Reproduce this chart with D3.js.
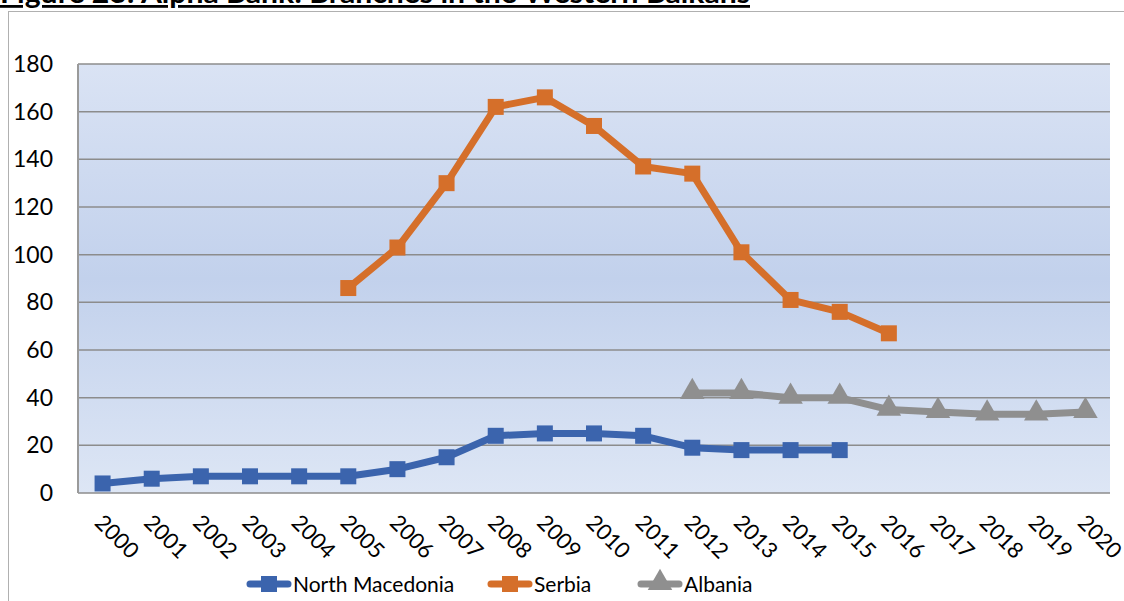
<!DOCTYPE html>
<html>
<head>
<meta charset="utf-8">
<script src="https://cdn.jsdelivr.net/npm/d3@7"></script>
<style>
  body { margin: 0; background: #fff; }
  svg { display: block; font-family: Lato, "Open Sans", sans-serif; }
</style>
</head>
<body>
<div id="chart"></div>
<script>
const years = ["2000","2001","2002","2003","2004","2005","2006","2007","2008","2009","2010",
               "2011","2012","2013","2014","2015","2016","2017","2018","2019","2020"];
const northMacedonia = [4, 6, 7, 7, 7, 7, 10, 15, 24, 25, 25, 24, 19, 18, 18, 18, null, null, null, null, null];
const serbia = [null, null, null, null, null, 86, 103, 130, 162, 166, 154, 137, 134, 101, 81, 76, 67, null, null, null, null];
const albania = [null, null, null, null, null, null, null, null, null, null, null, null, 42, 42, 40, 40, 35, 34, 33, 33, 34];
const yTicks = [0, 20, 40, 60, 80, 100, 120, 140, 160, 180];

const seriesList = [
    { name: "North Macedonia", values: northMacedonia, color: "#3b64ad", marker: "square" },
    { name: "Serbia", values: serbia, color: "#d56f2a", marker: "square" },
    { name: "Albania", values: albania, color: "#8f8f8f", marker: "triangle" }
];

const width = 1124;
const height = 601;
const plot = { left: 78, top: 64, right: 1110, bottom: 493 };

const svg = d3.select("#chart")
    .append("svg")
    .attr("width", width)
    .attr("height", height);

// Title (sits at the very top, cut like in the source page)
svg.append("text")
    .attr("x", 0)
    .attr("y", 3)
    .attr("font-size", "28px")
    .attr("font-weight", "bold")
    .attr("text-decoration", "underline")
    .attr("textLength", 750)
    .attr("lengthAdjust", "spacingAndGlyphs")
    .attr("fill", "#000")
    .text("Figure 23: Alpha Bank: Branches in the Western Balkans");

// Outer chart frame
svg.append("rect")
    .attr("x", 8.5)
    .attr("y", 11.5)
    .attr("width", width)
    .attr("height", height)
    .attr("fill", "none")
    .attr("stroke", "#b0b0b0")
    .attr("stroke-width", 1);

const x = d3.scaleBand()
    .domain(years)
    .range([plot.left, plot.right]);

const y = d3.scaleLinear()
    .domain([0, 180])
    .range([plot.bottom, plot.top]);

// Background gradient
const defs = svg.append("defs");
const grad = defs.append("linearGradient")
    .attr("id", "plotBg")
    .attr("x1", 0).attr("y1", 0).attr("x2", 0).attr("y2", 1);
grad.append("stop").attr("offset", "0%").attr("stop-color", "#dae3f4");
grad.append("stop").attr("offset", "50%").attr("stop-color", "#c2d1ec");
grad.append("stop").attr("offset", "100%").attr("stop-color", "#dde6f5");

svg.append("rect")
    .attr("x", plot.left)
    .attr("y", plot.top)
    .attr("width", plot.right - plot.left)
    .attr("height", plot.bottom - plot.top)
    .attr("fill", "url(#plotBg)");

// Gridlines
svg.append("g")
    .selectAll("line")
    .data(yTicks)
    .join("line")
    .attr("x1", plot.left)
    .attr("x2", plot.right)
    .attr("y1", (d) => y(d))
    .attr("y2", (d) => y(d))
    .attr("stroke", "#8c8c8c")
    .attr("stroke-width", 1.5);

// left border of plot area
svg.append("line")
    .attr("x1", plot.left).attr("x2", plot.left)
    .attr("y1", plot.top).attr("y2", plot.bottom)
    .attr("stroke", "#9a9a9a").attr("stroke-width", 2);

// Y axis
const yAxis = svg.append("g")
    .attr("transform", `translate(${plot.left},0)`)
    .call(d3.axisLeft(y).tickValues(yTicks).tickSize(0).tickPadding(25));
yAxis.select(".domain").remove();
yAxis.selectAll("text")
    .attr("font-size", "23px")
    .attr("font-family", "Lato, 'Open Sans', sans-serif")
    .attr("fill", "#000");

// X axis
const xAxis = svg.append("g")
    .attr("transform", `translate(0,${plot.bottom})`)
    .call(d3.axisBottom(x).tickSize(0).tickPadding(0));
xAxis.select(".domain").remove();
xAxis.selectAll("text")
    .attr("font-size", "22px")
    .attr("font-family", "Lato, 'Open Sans', sans-serif")
    .attr("fill", "#000")
    .attr("text-anchor", "start")
    .attr("dy", 0)
    .attr("transform", "translate(-9,31) rotate(45)");

const cx = (i) => x(years[i]) + x.bandwidth() / 2;

const line = d3.line()
    .defined((d) => d != null)
    .x((d, i) => cx(i))
    .y((d) => y(d));

const triangle = d3.symbol().type(d3.symbolTriangle).size(260);

seriesList.forEach((s) => {
    svg.append("path")
        .datum(s.values)
        .attr("fill", "none")
        .attr("stroke", s.color)
        .attr("stroke-width", 7)
        .attr("stroke-linejoin", "round")
        .attr("d", line);

    const pts = s.values
        .map((v, i) => ({ v, i }))
        .filter((d) => d.v != null);

    if (s.marker === "square") {
        svg.append("g")
            .selectAll("rect")
            .data(pts)
            .join("rect")
            .attr("x", (d) => cx(d.i) - 8)
            .attr("y", (d) => y(d.v) - 8)
            .attr("width", 16)
            .attr("height", 16)
            .attr("fill", s.color);
    } else {
        svg.append("g")
            .selectAll("path")
            .data(pts)
            .join("path")
            .attr("d", triangle)
            .attr("transform", (d) => `translate(${cx(d.i)},${y(d.v) - 1})`)
            .attr("fill", s.color);
    }
});

// Legend
const legendItems = [
    { s: seriesList[0], x: 247 },
    { s: seriesList[1], x: 488 },
    { s: seriesList[2], x: 638 }
];
const legendY = 584;
legendItems.forEach(({ s, x: lx }) => {
    const g = svg.append("g");
    g.append("line")
        .attr("x1", lx + 3).attr("x2", lx + 41)
        .attr("y1", legendY).attr("y2", legendY)
        .attr("stroke", s.color)
        .attr("stroke-width", 7)
        .attr("stroke-linecap", "round");
    if (s.marker === "square") {
        g.append("rect")
            .attr("x", lx + 14).attr("y", legendY - 8)
            .attr("width", 16).attr("height", 16)
            .attr("fill", s.color);
    } else {
        g.append("path")
            .attr("d", triangle)
            .attr("transform", `translate(${lx + 22},${legendY - 1})`)
            .attr("fill", s.color);
    }
    g.append("text")
        .attr("x", lx + 46)
        .attr("y", legendY + 8)
        .attr("font-size", "21px")
        .attr("fill", "#000")
        .text(s.name);
});
</script>
</body>
</html>
